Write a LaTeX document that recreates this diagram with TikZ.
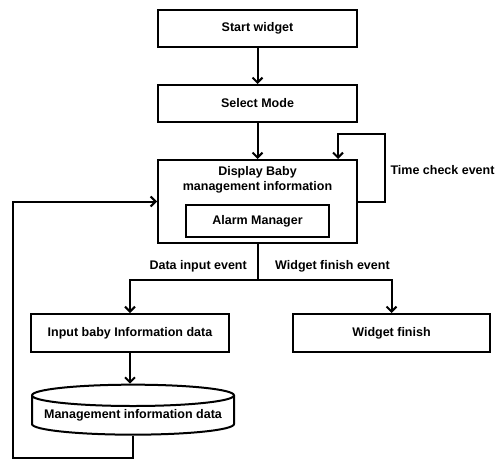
\documentclass[tikz,border=0pt]{standalone}
\usepackage{fontspec}
\setsansfont{Liberation Sans}
\usetikzlibrary{shapes.geometric, arrows.meta, positioning, calc}

\begin{document}
\begin{tikzpicture}[x=1pt, y=-1pt, font=\sffamily\bfseries\fontsize{12.5}{15}\selectfont,
    box/.style={rectangle, draw, line width=2pt, minimum width=199pt, minimum height=37pt, inner sep=0pt},
    line/.style={line width=2pt},
    arr/.style={line width=2pt, -{Straight Barb[length=5pt, width=10pt]}},
    evlabel/.style={inner sep=0pt}]
    \useasboundingbox (0,0) rectangle (502,460);

    % Main flow
    \node[box] (start) at (257.5,28.5) {Start widget};
    \node[box] (mode) at (257.5,103.5) {Select Mode};
    \node[box, minimum height=83pt] (disp) at (257.5,201.5) {};
    \node[align=center, inner sep=0pt] (disptext) at (257.5,180) {Display Baby\\management information};
    \node[box, minimum width=143pt, minimum height=32pt] (alarm) at (257.5,221) {Alarm Manager};

    \draw[arr] (start) -- (mode);
    \draw[arr] (mode) -- (disp);

    % Time check loop
    \coordinate (tloop) at (385,134);
    \draw[arr] (disp.east) -| (tloop) -| ([xshift=80.5pt]disp.north);
    \node[evlabel] (tlabel) at (442.5,170) {Time check event};

    % Branches
    \coordinate (split) at (257.5,280);
    \draw[line] (disp.south) -- (split);
    \node[evlabel, anchor=east] (dlabel) at (247,266) {Data input event};
    \node[evlabel, anchor=west] (wlabel) at (275,266) {Widget finish event};

    \node[box, minimum width=198pt, minimum height=38pt] (input) at (130,333) {Input baby Information data};
    \node[box, minimum width=197pt, minimum height=38pt] (finish) at (391.5,333) {Widget finish};
    \draw[arr] (split) -| (input.north);
    \draw[arr] (split) -| (finish.north);

    % Data store
    \node[cylinder, draw, line width=2pt, shape border rotate=90, aspect=0.12,
          minimum width=202pt, minimum height=50pt, inner sep=0pt] (db) at (133,415.5) {Management information data};
    \draw[arr] (input.south) -- (input.south |- db.north);

    % Return loop
    \coordinate (lback) at (13,458);
    \draw[arr] (db.south) |- (lback) |- (disp.west);
\end{tikzpicture}
\end{document}
